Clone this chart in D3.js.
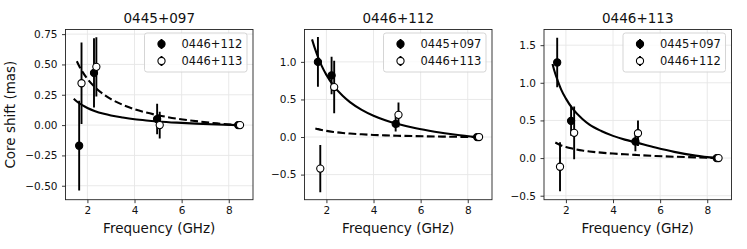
<!DOCTYPE html>
<html><head><meta charset="utf-8">
<script src="https://cdn.jsdelivr.net/npm/d3@7"></script>
<style>
html,body{margin:0;padding:0;background:#fff;}
svg{display:block;font-family:"DejaVu Sans",sans-serif;}
</style></head>
<body><svg id="c" width="747" height="249"></svg>
<script>
// ---------- data ----------
const titles = ["0445+097", "0446+112", "0446+113"];
const legendLabels = [["0446+112", "0446+113"], ["0445+097", "0446+113"], ["0445+097", "0446+112"]];
const xTicks = [2, 4, 6, 8];
const yTicks1 = [-0.5, -0.25, 0, 0.25, 0.5, 0.75];
const yTicks2 = [-0.5, 0, 0.5, 1.0];
const yTicks3 = [-0.5, 0, 0.5, 1.0, 1.5];
const yDomain1 = [-0.615, 0.788];
const yDomain2 = [-0.834, 1.431];
const yDomain3 = [-0.553, 1.708];
const xDomain = [1.07, 9.03];

// panel 1 (0445+097)
const p1FilledX = [1.65, 2.28, 4.96, 8.40];
const p1FilledY = [-0.17, 0.43, 0.05, 0.0];
const p1FilledErr = [0.37, 0.285, 0.125, 0.0];
const p1OpenX = [1.75, 2.38, 5.07, 8.48];
const p1OpenY = [0.345, 0.48, 0.0, 0.0];
const p1OpenErr = [0.335, 0.245, 0.11, 0.0];
// panel 2 (0446+112)
const p2FilledX = [1.64, 2.22, 4.94, 8.40];
const p2FilledY = [1.0, 0.82, 0.175, 0.0];
const p2FilledErr = [0.33, 0.25, 0.10, 0.0];
const p2OpenX = [1.74, 2.33, 5.06, 8.48];
const p2OpenY = [-0.42, 0.665, 0.295, 0.0];
const p2OpenErr = [0.315, 0.35, 0.165, 0.0];
// panel 3 (0446+113)
const p3FilledX = [1.63, 2.22, 4.95, 8.40];
const p3FilledY = [1.27, 0.495, 0.22, 0.0];
const p3FilledErr = [0.33, 0.20, 0.13, 0.0];
const p3OpenX = [1.75, 2.35, 5.06, 8.48];
const p3OpenY = [-0.115, 0.335, 0.33, 0.0];
const p3OpenErr = [0.325, 0.35, 0.17, 0.0];

// fit curves
const curveX = [1.5, 1.65, 1.8, 2.0, 2.3, 2.7, 3.0, 3.5, 4.0, 4.5, 5.0, 5.8, 6.6, 7.5, 8.4];
const p1SolidStart = [1.42, 0.217];
const p1Solid = [0.203, 0.180, 0.162, 0.141, 0.117, 0.093, 0.079, 0.062, 0.048, 0.038, 0.030, 0.020, 0.012, 0.005, 0.0];
const p1DashStart = [1.55, 0.526];
const p1Dash = [null, 0.487, 0.437, 0.381, 0.316, 0.251, 0.214, 0.167, 0.131, 0.103, 0.081, 0.053, 0.033, 0.014, 0.0];
const p2SolidStart = [1.39, 1.30];
const p2Solid = [1.19, 1.06, 0.947, 0.827, 0.685, 0.546, 0.465, 0.362, 0.284, 0.224, 0.176, 0.116, 0.071, 0.031, 0.0];
const p2DashStart = [1.53, 0.115];
const p2Dash = [null, 0.105, 0.094, 0.082, 0.068, 0.054, 0.046, 0.036, 0.028, 0.022, 0.017, 0.012, 0.007, 0.003, 0.0];
const p3SolidStart = [1.43, 1.25];
const p3Solid = [1.17, 1.03, 0.91, 0.79, 0.65, 0.52, 0.445, 0.36, 0.295, 0.245, 0.205, 0.14, 0.082, 0.033, 0.0];
const p3DashStart = [1.55, 0.207];
const p3Dash = [null, 0.19, 0.168, 0.148, 0.125, 0.100, 0.088, 0.072, 0.060, 0.050, 0.041, 0.028, 0.018, 0.009, 0.0];

// ---------- layout ----------
const svg = d3.select("#c");
const topY = 29.5, bottomY = 199.7, pw = 187.5;
const lefts = [65.5, 304.5, 544];
const fmtMinus = s => s.replace("-", "\u2212");

const panels = [
  {title: titles[0], legend: legendLabels[0], yTicks: yTicks1, yDomain: yDomain1, fmt: ".2f",
   filled: [p1FilledX, p1FilledY, p1FilledErr], open: [p1OpenX, p1OpenY, p1OpenErr],
   solid: [p1SolidStart, p1Solid], dash: [p1DashStart, p1Dash]},
  {title: titles[1], legend: legendLabels[1], yTicks: yTicks2, yDomain: yDomain2, fmt: ".1f",
   filled: [p2FilledX, p2FilledY, p2FilledErr], open: [p2OpenX, p2OpenY, p2OpenErr],
   solid: [p2SolidStart, p2Solid], dash: [p2DashStart, p2Dash]},
  {title: titles[2], legend: legendLabels[2], yTicks: yTicks3, yDomain: yDomain3, fmt: ".1f",
   filled: [p3FilledX, p3FilledY, p3FilledErr], open: [p3OpenX, p3OpenY, p3OpenErr],
   solid: [p3SolidStart, p3Solid], dash: [p3DashStart, p3Dash]}
];

const defs = svg.append("defs");

panels.forEach((p, i) => {
  const L = lefts[i], R = L + pw;
  const x = d3.scaleLinear().domain(xDomain).range([L, R]);
  const y = d3.scaleLinear().domain(p.yDomain).range([bottomY, topY]);
  const g = svg.append("g");

  defs.append("clipPath").attr("id", "clip" + i)
    .append("rect").attr("x", L).attr("y", topY).attr("width", pw).attr("height", bottomY - topY);

  // grid
  g.append("g").selectAll("line").data(xTicks).join("line")
    .attr("x1", d => x(d)).attr("x2", d => x(d)).attr("y1", topY).attr("y2", bottomY)
    .attr("stroke", "#e6e6e6").attr("stroke-width", 0.9);
  g.append("g").selectAll("line").data(p.yTicks).join("line")
    .attr("y1", d => y(d)).attr("y2", d => y(d)).attr("x1", L).attr("x2", R)
    .attr("stroke", "#e6e6e6").attr("stroke-width", 0.9);

  // axes
  const xAxis = d3.axisBottom(x).tickValues(xTicks).tickFormat(d3.format("d")).tickSize(3.5).tickPadding(3.5);
  const ax = g.append("g").attr("transform", `translate(0,${bottomY})`).call(xAxis);
  const yAxis = d3.axisLeft(y).tickValues(p.yTicks).tickFormat(d => fmtMinus(d3.format(p.fmt)(d))).tickSize(3.5).tickPadding(4.5);
  const ay = g.append("g").attr("transform", `translate(${L},0)`).call(yAxis);
  [ax, ay].forEach(a => {
    a.select(".domain").remove();
    a.selectAll("line").attr("stroke", "#222").attr("stroke-width", 0.9);
    a.selectAll("text").attr("font-size", 10.5).attr("fill", "#111").attr("font-family", "DejaVu Sans");
  });

  // curves
  const cg = g.append("g").attr("clip-path", `url(#clip${i})`);
  const buildPts = (start, vals) => {
    const pts = [start];
    curveX.forEach((cx, k) => { if (vals[k] !== null) pts.push([cx, vals[k]]); });
    return pts;
  };
  const line = d3.line().x(d => x(d[0])).y(d => y(d[1])).curve(d3.curveMonotoneX);
  cg.append("path").attr("d", line(buildPts(p.solid[0], p.solid[1])))
    .attr("fill", "none").attr("stroke", "#000").attr("stroke-width", 2.1);
  cg.append("path").attr("d", line(buildPts(p.dash[0], p.dash[1])))
    .attr("fill", "none").attr("stroke", "#000").attr("stroke-width", 2.1)
    .attr("stroke-dasharray", "7.8,3.4");

  // error bars & points
  const drawSeries = (ser, open) => {
    const [xs, ys, es] = ser;
    const data = xs.map((xv, k) => ({x: xv, y: ys[k], e: es[k]}));
    cg.append("g").selectAll("line").data(data.filter(d => d.e > 0)).join("line")
      .attr("x1", d => x(d.x)).attr("x2", d => x(d.x))
      .attr("y1", d => y(d.y - d.e)).attr("y2", d => y(d.y + d.e))
      .attr("stroke", "#000").attr("stroke-width", 1.9);
    cg.append("g").selectAll("circle").data(data).join("circle")
      .attr("cx", d => x(d.x)).attr("cy", d => y(d.y)).attr("r", 3.6)
      .attr("fill", open ? "#fff" : "#000").attr("stroke", "#000").attr("stroke-width", 1.1);
  };
  drawSeries(p.filled, false);
  drawSeries(p.open, true);

  // frame
  g.append("rect").attr("x", L).attr("y", topY).attr("width", pw).attr("height", bottomY - topY)
    .attr("fill", "none").attr("stroke", "#222").attr("stroke-width", 0.9);

  // title
  g.append("text").attr("x", (L + R) / 2).attr("y", 23).attr("text-anchor", "middle")
    .attr("font-size", 13.5).attr("fill", "#111").text(p.title);
  // x label
  g.append("text").attr("x", (L + R) / 2).attr("y", 233).attr("text-anchor", "middle")
    .attr("font-size", 13.5).attr("fill", "#111").text("Frequency (GHz)");

  // legend
  const lw = 102.5, lh = 39;
  const lx = R - 6 - lw, ly = topY + 3.5;
  const lg = g.append("g");
  lg.append("rect").attr("x", lx).attr("y", ly).attr("width", lw).attr("height", lh)
    .attr("rx", 2.5).attr("fill", "#fff").attr("fill-opacity", 0.8)
    .attr("stroke", "#d0d0d0").attr("stroke-width", 0.9);
  p.legend.forEach((lab, k) => {
    const cy = ly + 11 + k * 17;
    const mx = lx + 17;
    lg.append("line").attr("x1", mx).attr("x2", mx).attr("y1", cy - 5).attr("y2", cy + 5)
      .attr("stroke", "#000").attr("stroke-width", 1.9);
    lg.append("circle").attr("cx", mx).attr("cy", cy).attr("r", 3.6)
      .attr("fill", k === 0 ? "#000" : "#fff").attr("stroke", "#000").attr("stroke-width", 1.1);
    lg.append("text").attr("x", lx + 37).attr("y", cy).attr("dy", "0.36em")
      .attr("font-size", 11.5).attr("fill", "#111").text(lab);
  });
});

// y label
svg.append("text").attr("transform", `translate(15,${(topY + bottomY) / 2}) rotate(-90)`)
  .attr("text-anchor", "middle").attr("font-size", 13.5).attr("fill", "#111").text("Core shift (mas)");
</script>
</body></html>
